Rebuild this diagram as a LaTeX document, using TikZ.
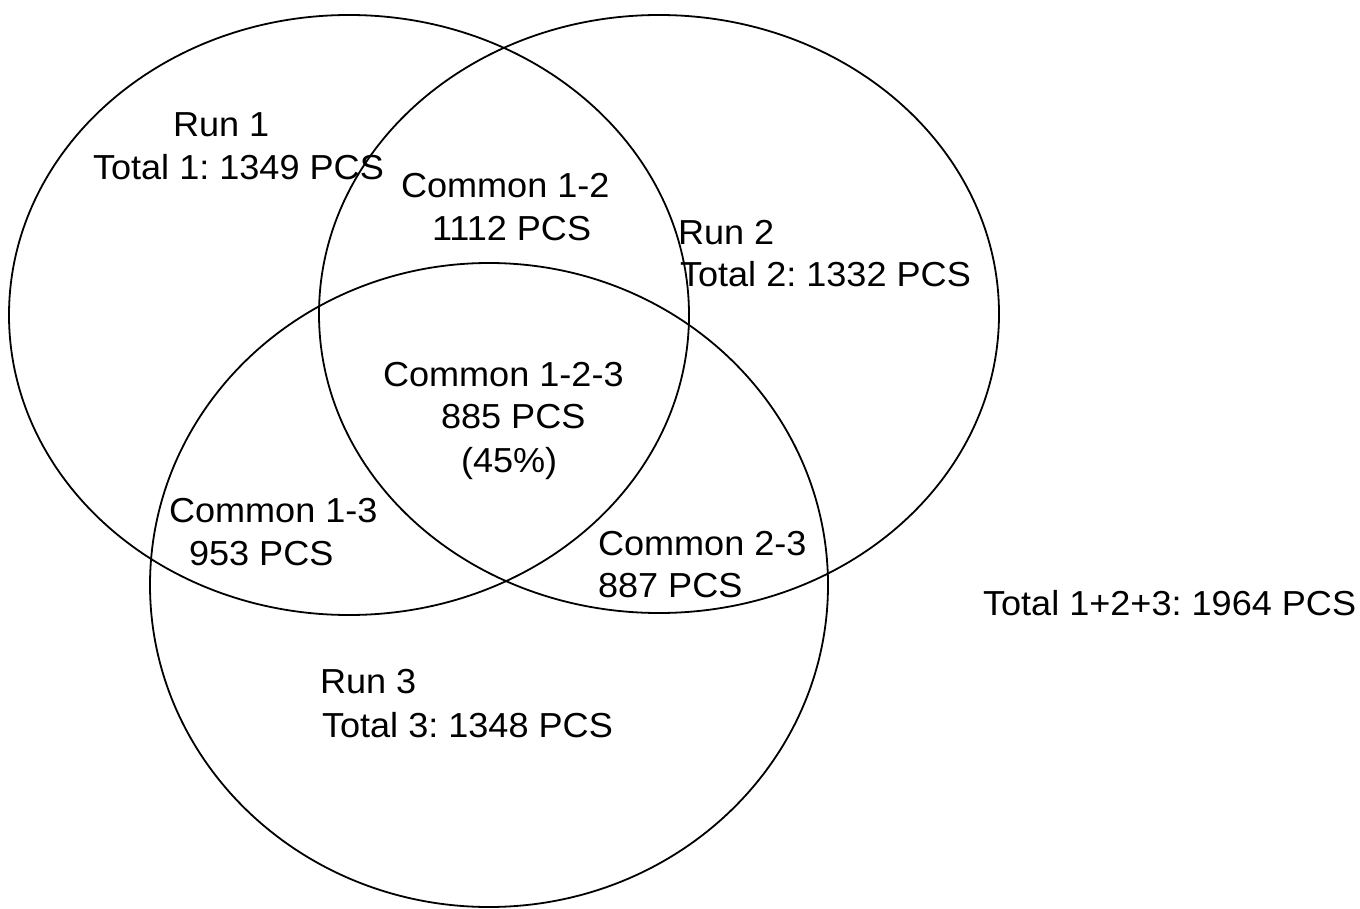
\documentclass[tikz,border=0pt]{standalone}
\usepackage{fontspec}
\setmainfont{Liberation Sans}[FakeStretch=1.04]
\frenchspacing
\begin{document}
\begin{tikzpicture}[x=1pt,y=-1pt,
  setline/.style={line width=1.8pt,black},
  lbl/.style={anchor=base west,inner sep=0pt,outer sep=0pt,font=\fontsize{34.7}{43}\selectfont}]
\useasboundingbox (0,0) rectangle (1360,909);
\draw[setline] (349,315) ellipse [x radius=340pt, y radius=300pt];
\draw[setline] (659,314) ellipse [x radius=340pt, y radius=299pt];
\draw[setline] (489,585) ellipse [x radius=339pt, y radius=322pt];
\node[lbl] (run1) at (173,137) {Run 1};
\node[lbl] (tot1) at (93,180) {Total 1: 1349 PCS};
\node[lbl] (c12a) at (401,198) {Common 1-2};
\node[lbl] (c12b) at (432,241) {1112 PCS};
\node[lbl] (run2) at (678,245) {Run 2};
\node[lbl] (tot2) at (680,287) {Total 2: 1332 PCS};
\node[lbl] (c123a) at (383,386) {Common 1-2-3};
\node[lbl] (c123b) at (441,428) {885 PCS};
\node[lbl] (c123c) at (461,472) {(45\%)};
\node[lbl] (c13a) at (169,522) {Common 1-3};
\node[lbl] (c13b) at (189,565) {953 PCS};
\node[lbl] (c23a) at (598,555) {Common 2-3};
\node[lbl] (c23b) at (598,597) {887 PCS};
\node[lbl] (run3) at (320,693) {Run 3};
\node[lbl] (tot3) at (322,737) {Total 3: 1348 PCS};
\node[lbl] (tot) at (983,615) {Total 1+2+3: 1964 PCS};
\end{tikzpicture}
\end{document}
